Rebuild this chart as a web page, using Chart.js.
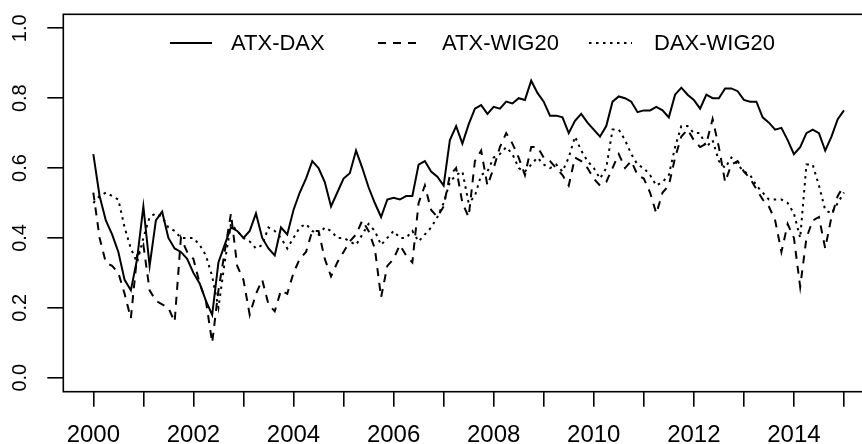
<!DOCTYPE html>
<html>
<head>
<meta charset="utf-8">
<script src="https://cdn.jsdelivr.net/npm/chart.js@4.4.1/dist/chart.umd.min.js"></script>
<style>
  html, body { margin: 0; padding: 0; background: #fff; overflow: hidden; }
  #wrap { width: 862px; height: 444px; overflow: hidden; }
</style>
</head>
<body>
<div id="wrap"><canvas id="corrChart" width="880" height="444"></canvas></div>
<script>
// time grid (years, every 1.5 months)
const t = [
  2000, 2000.125, 2000.25, 2000.375, 2000.5, 2000.625, 2000.75, 2000.875,
  2001, 2001.125, 2001.25, 2001.375, 2001.5, 2001.625, 2001.75, 2001.875,
  2002, 2002.125, 2002.25, 2002.375, 2002.5, 2002.625, 2002.75, 2002.875,
  2003, 2003.125, 2003.25, 2003.375, 2003.5, 2003.625, 2003.75, 2003.875,
  2004, 2004.125, 2004.25, 2004.375, 2004.5, 2004.625, 2004.75, 2004.875,
  2005, 2005.125, 2005.25, 2005.375, 2005.5, 2005.625, 2005.75, 2005.875,
  2006, 2006.125, 2006.25, 2006.375, 2006.5, 2006.625, 2006.75, 2006.875,
  2007, 2007.125, 2007.25, 2007.375, 2007.5, 2007.625, 2007.75, 2007.875,
  2008, 2008.125, 2008.25, 2008.375, 2008.5, 2008.625, 2008.75, 2008.875,
  2009, 2009.125, 2009.25, 2009.375, 2009.5, 2009.625, 2009.75, 2009.875,
  2010, 2010.125, 2010.25, 2010.375, 2010.5, 2010.625, 2010.75, 2010.875,
  2011, 2011.125, 2011.25, 2011.375, 2011.5, 2011.625, 2011.75, 2011.875,
  2012, 2012.125, 2012.25, 2012.375, 2012.5, 2012.625, 2012.75, 2012.875,
  2013, 2013.125, 2013.25, 2013.375, 2013.5, 2013.625, 2013.75, 2013.875,
  2014, 2014.125, 2014.25, 2014.375, 2014.5, 2014.625, 2014.75, 2014.875,
  2015
];

// ATX-DAX (solid)
const atxDax = [
  0.64, 0.52, 0.45, 0.41, 0.36, 0.28, 0.25, 0.34,
  0.49, 0.32, 0.45, 0.475, 0.40, 0.37, 0.36, 0.34,
  0.30, 0.27, 0.22, 0.18, 0.33, 0.38, 0.43, 0.42,
  0.40, 0.42, 0.47, 0.40, 0.37, 0.35, 0.43, 0.41,
  0.48, 0.53, 0.57, 0.62, 0.60, 0.56, 0.49, 0.53,
  0.57, 0.585, 0.65, 0.60, 0.545, 0.50, 0.46, 0.51,
  0.515, 0.51, 0.52, 0.52, 0.61, 0.62, 0.59, 0.575,
  0.55, 0.68, 0.72, 0.67, 0.725, 0.77, 0.78, 0.755,
  0.775, 0.77, 0.79, 0.785, 0.80, 0.795, 0.85, 0.815,
  0.79, 0.75, 0.75, 0.745, 0.70, 0.735, 0.755, 0.73,
  0.71, 0.69, 0.72, 0.79, 0.805, 0.80, 0.79, 0.76,
  0.765, 0.765, 0.775, 0.765, 0.745, 0.81, 0.83, 0.81,
  0.795, 0.77, 0.81, 0.80, 0.80, 0.828, 0.828, 0.82,
  0.795, 0.79, 0.79, 0.745, 0.73, 0.71, 0.715, 0.68,
  0.64, 0.66, 0.70, 0.71, 0.70, 0.65, 0.69, 0.74, 0.765
];

// ATX-WIG20 (dashed)
const atxWig = [
  0.53, 0.40, 0.33, 0.32, 0.30, 0.24, 0.17, 0.35,
  0.38, 0.25, 0.22, 0.21, 0.20, 0.16, 0.40, 0.36,
  0.34, 0.27, 0.22, 0.10, 0.25, 0.36, 0.47, 0.32,
  0.28, 0.18, 0.24, 0.28, 0.21, 0.19, 0.25, 0.24,
  0.30, 0.34, 0.36, 0.42, 0.42, 0.34, 0.29, 0.33,
  0.36, 0.39, 0.41, 0.45, 0.42, 0.37, 0.23, 0.32,
  0.34, 0.38, 0.35, 0.33, 0.50, 0.55, 0.48, 0.46,
  0.49, 0.58, 0.60, 0.50, 0.46, 0.62, 0.65, 0.55,
  0.60, 0.66, 0.70, 0.67, 0.63, 0.58, 0.66, 0.66,
  0.63, 0.62, 0.60, 0.58, 0.55, 0.63, 0.62, 0.60,
  0.57, 0.55, 0.56, 0.60, 0.64, 0.60, 0.62, 0.58,
  0.57, 0.53, 0.47, 0.53, 0.55, 0.63, 0.69, 0.71,
  0.68, 0.66, 0.67, 0.74, 0.66, 0.56, 0.61, 0.62,
  0.59, 0.57, 0.54, 0.51, 0.49, 0.45, 0.36, 0.44,
  0.40, 0.26, 0.40, 0.45, 0.46, 0.37, 0.46, 0.52, 0.55
];

// DAX-WIG20 (dotted)
const daxWig = [
  0.50, 0.52, 0.53, 0.52, 0.51, 0.43, 0.37, 0.33,
  0.40, 0.46, 0.47, 0.46, 0.43, 0.42, 0.40, 0.40,
  0.40, 0.38, 0.35, 0.29, 0.20, 0.33, 0.44, 0.42,
  0.40, 0.39, 0.37, 0.38, 0.43, 0.42, 0.40, 0.37,
  0.40, 0.43, 0.44, 0.42, 0.41, 0.43, 0.42, 0.40,
  0.40, 0.39, 0.38, 0.41, 0.44, 0.42, 0.38, 0.40,
  0.42, 0.40, 0.40, 0.42, 0.39, 0.41, 0.43, 0.46,
  0.50, 0.56, 0.58, 0.59, 0.50, 0.52, 0.58, 0.59,
  0.63, 0.64, 0.66, 0.64, 0.60, 0.59, 0.61, 0.63,
  0.61, 0.60, 0.61, 0.59, 0.63, 0.69, 0.65, 0.62,
  0.60, 0.57, 0.60, 0.71, 0.71, 0.68, 0.64, 0.61,
  0.60, 0.58, 0.55, 0.56, 0.58, 0.66, 0.72, 0.72,
  0.70, 0.70, 0.66, 0.68, 0.62, 0.60, 0.63, 0.61,
  0.59, 0.58, 0.55, 0.53, 0.51, 0.51, 0.51, 0.50,
  0.47, 0.40, 0.61, 0.61, 0.55, 0.48, 0.47, 0.50, 0.53
];

// axis ticks
const xTicks = [2000, 2001, 2002, 2003, 2004, 2005, 2006, 2007, 2008, 2009, 2010, 2011, 2012, 2013, 2014, 2015];
const xTickLabels = ['2000', '', '2002', '', '2004', '', '2006', '', '2008', '', '2010', '', '2012', '', '2014', ''];
const yTicks = [0, 0.2, 0.4, 0.6, 0.8, 1.0];
const yTickLabels = ['0.0', '0.2', '0.4', '0.6', '0.8', '1.0'];

const seriesNames = ['ATX-DAX', 'ATX-WIG20', 'DAX-WIG20'];

const FONT = '"Liberation Sans", Arial, Helvetica, sans-serif';

function toPoints(values) {
    return values.map((v, i) => ({ x: t[i], y: v }));
}

// box around the plot region, like R's box()
const boxPlugin = {
    id: 'box',
    afterDraw(chart) {
        const { ctx, chartArea } = chart;
        ctx.save();
        ctx.strokeStyle = '#000';
        ctx.lineWidth = 1.6;
        ctx.strokeRect(chartArea.left, chartArea.top, chartArea.right - chartArea.left, chartArea.bottom - chartArea.top);
        ctx.restore();
    }
};

// rotated y tick labels (R draws them parallel to the axis)
const yLabelPlugin = {
    id: 'yLabels',
    afterDraw(chart) {
        const { ctx } = chart;
        const yScale = chart.scales.y;
        ctx.save();
        ctx.fillStyle = '#000';
        ctx.font = '20px ' + FONT;
        ctx.textAlign = 'center';
        ctx.textBaseline = 'middle';
        yTicks.forEach((v, i) => {
            const py = yScale.getPixelForValue(v);
            ctx.save();
            ctx.translate(20.5, py);
            ctx.rotate(-Math.PI / 2);
            ctx.fillText(yTickLabels[i], 0, 0);
            ctx.restore();
        });
        ctx.restore();
    }
};

// horizontal legend inside the plot, no box
const legendPlugin = {
    id: 'rLegend',
    afterDraw(chart) {
        const { ctx } = chart;
        const items = [
            { x0: 170, x1: 212, tx: 231 },
            { x0: 378, x1: 420, tx: 442 },
            { x0: 589, x1: 632, tx: 654 }
        ];
        const y = 43;
        ctx.save();
        ctx.font = '22px ' + FONT;
        ctx.fillStyle = '#000';
        ctx.textBaseline = 'middle';
        items.forEach((it, i) => {
            const ds = chart.data.datasets[i];
            ctx.strokeStyle = '#000';
            ctx.lineWidth = ds.borderWidth;
            ctx.setLineDash(ds.borderDash || []);
            ctx.beginPath();
            ctx.moveTo(it.x0, y);
            ctx.lineTo(it.x1, y);
            ctx.stroke();
            ctx.setLineDash([]);
            ctx.fillText(ds.label, it.tx, y + 1);
        });
        ctx.restore();
    }
};

const ctx = document.getElementById('corrChart').getContext('2d');
const corrChart = new Chart(ctx, {
    type: 'line',
    data: {
        datasets: [
            {
                label: seriesNames[0],
                data: toPoints(atxDax),
                borderColor: '#000',
                borderWidth: 2,
                borderDash: []
            },
            {
                label: seriesNames[1],
                data: toPoints(atxWig),
                borderColor: '#000',
                borderWidth: 2,
                borderDash: [8, 7]
            },
            {
                label: seriesNames[2],
                data: toPoints(daxWig),
                borderColor: '#000',
                borderWidth: 2,
                borderDash: [2.5, 4.5]
            }
        ]
    },
    options: {
        responsive: false,
        animation: false,
        devicePixelRatio: 1,
        layout: { padding: { top: 14.3, right: 5, left: 0, bottom: 0 } },
        elements: {
            point: { radius: 0 },
            line: { tension: 0, fill: false }
        },
        plugins: {
            legend: { display: false },
            tooltip: { enabled: false },
            title: { display: false }
        },
        scales: {
            x: {
                type: 'linear',
                min: 1999.4,
                max: 2015.62,
                afterBuildTicks: (scale) => { scale.ticks = xTicks.map(v => ({ value: v })); },
                afterFit: (scale) => { scale.height = 52.3; },
                border: { display: false },
                grid: {
                    drawOnChartArea: false,
                    drawTicks: true,
                    tickLength: 15,
                    color: '#000',
                    lineWidth: 1.6
                },
                ticks: {
                    autoSkip: false,
                    maxRotation: 0,
                    minRotation: 0,
                    padding: 14,
                    color: '#000',
                    font: { family: FONT, size: 24 },
                    callback: (value) => {
                        const i = xTicks.indexOf(value);
                        return i >= 0 ? xTickLabels[i] : '';
                    }
                }
            },
            y: {
                min: -0.04,
                max: 1.04,
                afterBuildTicks: (scale) => { scale.ticks = yTicks.map(v => ({ value: v })); },
                afterFit: (scale) => { scale.width = 63.3; },
                border: { display: false },
                grid: {
                    drawOnChartArea: false,
                    drawTicks: true,
                    tickLength: 16,
                    color: '#000',
                    lineWidth: 1.6
                },
                ticks: { display: false }
            }
        }
    },
    plugins: [boxPlugin, yLabelPlugin, legendPlugin]
});
</script>
</body>
</html>
